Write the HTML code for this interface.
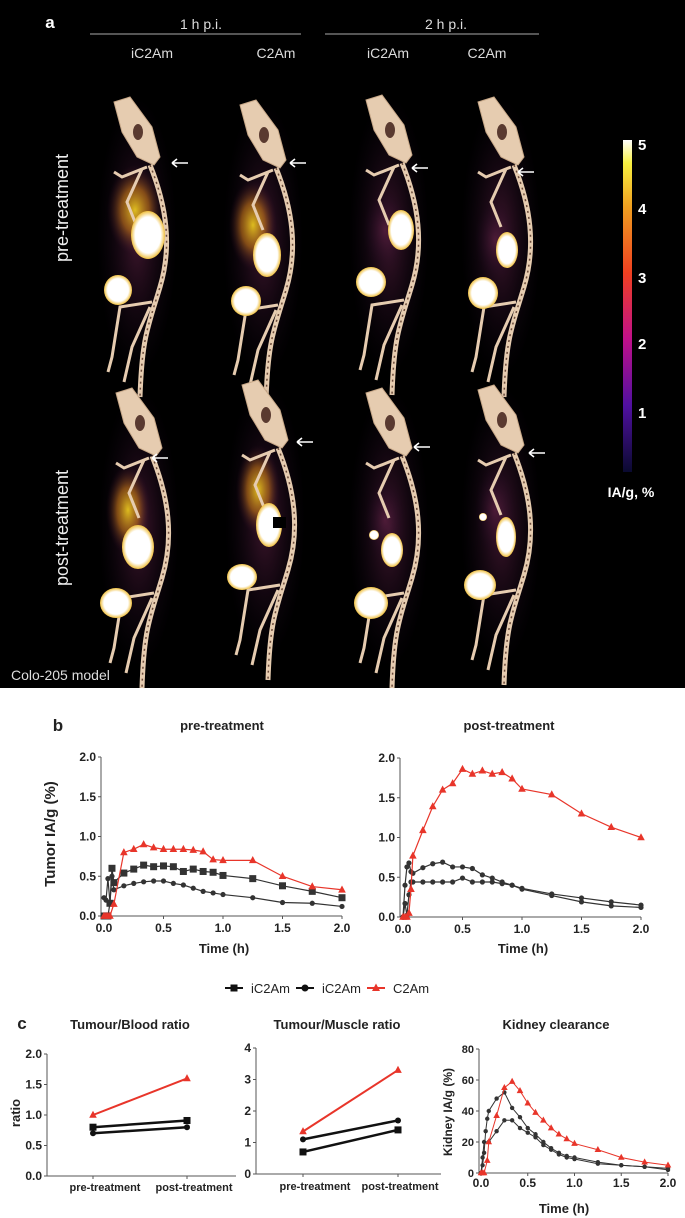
<!DOCTYPE html>
<html><head><meta charset="utf-8">
<style>
html,body{margin:0;padding:0;background:#fff;}
svg{display:block;font-family:"Liberation Sans",Arial,sans-serif;}
</style></head>
<body>
<svg id="fig" width="685" height="1218" viewBox="0 0 685 1218" xmlns="http://www.w3.org/2000/svg">
<defs>
<radialGradient id="glowY" cx="50%" cy="50%" r="50%"><stop offset="0" stop-color="#f2d020" stop-opacity="0.9"/><stop offset="0.5" stop-color="#c87818" stop-opacity="0.6"/><stop offset="1" stop-color="#3a1030" stop-opacity="0"/></radialGradient>
<radialGradient id="glowD" cx="50%" cy="50%" r="50%"><stop offset="0" stop-color="#5a2040" stop-opacity="0.7"/><stop offset="1" stop-color="#1a0820" stop-opacity="0"/></radialGradient>
<radialGradient id="blob" cx="50%" cy="50%" r="50%"><stop offset="0.75" stop-color="#ffffff"/><stop offset="1" stop-color="#f0c040"/></radialGradient>
<linearGradient id="cbar" x1="0" y1="1" x2="0" y2="0"><stop offset="0" stop-color="#0a0a30"/><stop offset="0.2" stop-color="#5010a0"/><stop offset="0.4" stop-color="#c0108a"/><stop offset="0.6" stop-color="#f04020"/><stop offset="0.8" stop-color="#f0a020"/><stop offset="0.93" stop-color="#f8f040"/><stop offset="1" stop-color="#ffffff"/></linearGradient>
</defs>
<rect x="0" y="0" width="685" height="688" fill="#000"/>
<g id="panelA"></g>
<g id="panelB"></g>
<g id="panelC"></g>
</svg>
<script>
// ---------- Panel b data ----------
const timesPreC2 = [0,0.017,0.033,0.05,0.083,0.167,0.25,0.333,0.417,0.5,0.583,0.667,0.75,0.833,0.917,1.0,1.25,1.5,1.75,2.0];
const preC2Am = [0,0,0,0,0.15,0.80,0.84,0.90,0.86,0.84,0.84,0.84,0.83,0.81,0.71,0.70,0.70,0.50,0.37,0.33];
const timesPreSq = [0,0.017,0.033,0.05,0.067,0.083,0.167,0.25,0.333,0.417,0.5,0.583,0.667,0.75,0.833,0.917,1.0,1.25,1.5,1.75,2.0];
const preIC2AmSq = [0,0,0,0.16,0.60,0.42,0.54,0.59,0.64,0.62,0.63,0.62,0.56,0.59,0.56,0.55,0.51,0.47,0.38,0.31,0.23];
const preIC2AmCi = [0.23,0.20,0.47,0.17,0.50,0.33,0.38,0.41,0.43,0.44,0.44,0.41,0.39,0.35,0.31,0.29,0.27,0.23,0.17,0.16,0.12];
const timesPost = [0,0.017,0.033,0.05,0.067,0.083,0.167,0.25,0.333,0.417,0.5,0.583,0.667,0.75,0.833,0.917,1.0,1.25,1.5,1.75,2.0];
const postC2Am = [0,0,0,0.05,0.35,0.77,1.09,1.39,1.60,1.68,1.86,1.80,1.84,1.80,1.82,1.74,1.61,1.54,1.30,1.13,1.00];
const postIC2AmA = [0,0.40,0.63,0.68,0.57,0.55,0.62,0.67,0.69,0.63,0.63,0.61,0.53,0.49,0.44,0.40,0.35,0.27,0.19,0.14,0.12];
const postIC2AmB = [0,0.17,0.02,0.28,0.44,0.44,0.44,0.44,0.44,0.44,0.49,0.44,0.44,0.44,0.42,0.40,0.36,0.29,0.24,0.19,0.15];
const timeTicks = [0,0.5,1.0,1.5,2.0];
const timeTickLabels = ["0.0","0.5","1.0","1.5","2.0"];
const tumorTicks = [0,0.5,1.0,1.5,2.0];
const tumorTickLabels = ["0.0","0.5","1.0","1.5","2.0"];
// ---------- Panel c data ----------
const ratioCats = ["pre-treatment","post-treatment"];
const bloodC2Am = [1.0,1.6];
const bloodIC2AmSq = [0.8,0.91];
const bloodIC2AmCi = [0.7,0.8];
const bloodTicks = [0,0.5,1.0,1.5,2.0];
const bloodTickLabels = ["0.0","0.5","1.0","1.5","2.0"];
const muscleC2Am = [1.35,3.3];
const muscleIC2AmCi = [1.1,1.7];
const muscleIC2AmSq = [0.7,1.4];
const muscleTicks = [0,1,2,3,4];
const muscleTickLabels = ["0","1","2","3","4"];
const kidTimesRed = [0,0.017,0.033,0.067,0.083,0.167,0.25,0.333,0.417,0.5,0.583,0.667,0.75,0.833,0.917,1.0,1.25,1.5,1.75,2.0];
const kidneyC2Am = [0,0,0,8,20,37,55,59,53,45,39,34,29,25,22,19,15,10,7,5];
const kidTimesA = [0,0.017,0.033,0.05,0.067,0.083,0.167,0.25,0.333,0.417,0.5,0.583,0.667,0.75,0.833,0.917,1.0,1.25,1.5,1.75,2.0];
const kidneyIC2AmA = [0,5,13,27,35,40,48,52,42,36,29,25,20,16,13,11,10,7,5,4,3];
const kidTimesB = [0,0.017,0.033,0.083,0.167,0.25,0.333,0.417,0.5,0.583,0.667,0.75,0.833,0.917,1.0,1.25,1.5,1.75,2.0];
const kidneyIC2AmB = [0,10,20,20,27,34,34,29,26,23,18,15,12,10,9,6,5,4,2];
const kidTicks = [0,20,40,60,80];
const kidTickLabels = ["0","20","40","60","80"];

const NS = "http://www.w3.org/2000/svg";
function mk(parent, tag, attrs, text){
  const e = document.createElementNS(NS, tag);
  for (const k in attrs) e.setAttribute(k, attrs[k]);
  if (text !== undefined) e.textContent = text;
  parent.appendChild(e);
  return e;
}
function lin(d0,d1,r0,r1){ return v => r0 + (v-d0)/(d1-d0)*(r1-r0); }

// ---------- Panel a ----------
const A = document.getElementById('panelA');
function txt(parent,x,y,s,size,fill,anchor,weight,name){
  const t = mk(parent,'text',{x:x,y:y,'font-size':size,fill:fill,'text-anchor':anchor||'middle','font-weight':weight||'normal'},s);
  
  
  return t;
}
txt(A,50,28,'a',17,'#fff','middle','bold','panel-a-label');
txt(A,201,29,'1 h p.i.',14,'#ddd','middle','normal','header-1h');
txt(A,446,29,'2 h p.i.',14,'#ddd','middle','normal','header-2h');
mk(A,'line',{x1:90,y1:34,x2:301,y2:34,stroke:'#aaa','stroke-width':1});
mk(A,'line',{x1:325,y1:34,x2:539,y2:34,stroke:'#aaa','stroke-width':1});
const colX = [152,276,388,487], colL = ['iC2Am','C2Am','iC2Am','C2Am'];
colX.forEach((x,i)=>txt(A,x,58,colL[i],14,'#ddd','middle','normal','column-label'));
let t1 = txt(A,0,0,'pre-treatment',18,'#eee','middle','normal','row-label-pre');
t1.setAttribute('transform','translate(68,208) rotate(-90)');
let t2 = txt(A,0,0,'post-treatment',18,'#eee','middle','normal','row-label-post');
t2.setAttribute('transform','translate(68,528) rotate(-90)');
txt(A,11,680,'Colo-205 model',14,'#ddd','start','normal','model-label');
// colorbar
const cb = mk(A,'rect',{x:623,y:140,width:9,height:332,fill:'url(#cbar)'});


[['5',150],['4',214],['3',283],['2',349],['1',418]].forEach(p=>txt(A,638,p[1],p[0],15,'#fff','start','bold','colorbar-tick'));
txt(A,631,497,'IA/g, %',14,'#fff','middle','bold','colorbar-title');

const mice = [
 {hx:122,ht:97, glow:[135,210,28,45], blobs:[[148,235,17,24],[118,290,14,15]], yellow:true, arrow:[180,163]},
 {hx:248,ht:100,glow:[253,225,24,45], blobs:[[267,255,14,22],[246,301,15,15]], yellow:true, arrow:[298,163]},
 {hx:374,ht:95, glow:[385,230,22,40], blobs:[[401,230,13,20],[371,282,15,15]], yellow:false, arrow:[420,168]},
 {hx:486,ht:97, glow:[495,240,20,40], blobs:[[507,250,11,18],[483,293,15,16]], yellow:false, arrow:[526,172]},
 {hx:124,ht:388,glow:[128,510,22,45], blobs:[[138,547,16,22],[116,603,16,15]], yellow:true, arrow:[160,458]},
 {hx:250,ht:380,glow:[258,490,22,45], blobs:[[269,525,13,22],[242,577,15,13]], yellow:true, arrow:[305,442], notch:true},
 {hx:374,ht:388,glow:[385,520,20,40], blobs:[[392,550,11,17],[374,535,5,5],[371,603,17,16]], yellow:false, arrow:[422,447]},
 {hx:486,ht:385,glow:[495,510,20,45], blobs:[[506,537,10,20],[483,517,4,4],[480,585,16,15]], yellow:false, arrow:[537,453]}
];
mice.forEach((m,i)=>{
  const g = mk(A,'g',{});
  
  
  const x=m.hx, t=m.ht;
  mk(g,'ellipse',{cx:x+15,cy:t+140,rx:40,ry:140,fill:'url(#glowD)'});
  mk(g,'ellipse',{cx:m.glow[0],cy:m.glow[1],rx:m.glow[2],ry:m.glow[3],fill:m.yellow?'url(#glowY)':'url(#glowD)'});
  // skull
  mk(g,'path',{d:`M${x-8},${t+5} L${x+8},${t} L${x+30},${t+30} L${x+38},${t+60} L${x+32},${t+68} L${x+15},${t+60} L${x},${t+35} Z`,fill:'#e6ccb0',stroke:'#c8a888','stroke-width':1});
  mk(g,'ellipse',{cx:x+16,cy:t+35,rx:5,ry:8,fill:'#5a3a30'});
  // spine
  mk(g,'path',{d:`M${x+28},${t+68} C${x+45},${t+110} ${x+50},${t+150} ${x+38},${t+190} S${x+20},${t+240} ${x+18},${t+300}`,fill:'none',stroke:'#e6ccb0','stroke-width':5});
  mk(g,'path',{d:`M${x+28},${t+68} C${x+45},${t+110} ${x+50},${t+150} ${x+38},${t+190} S${x+20},${t+240} ${x+18},${t+300}`,fill:'none',stroke:'#6a4a3a','stroke-width':1.5,'stroke-dasharray':'2 4'});
  // forelimbs
  mk(g,'path',{d:`M${x+25},${t+70} L${x},${t+80} L${x-8},${t+75} M${x+20},${t+72} L${x+5},${t+105} L${x+15},${t+130}`,fill:'none',stroke:'#e6ccb0','stroke-width':3});
  // hind limbs
  mk(g,'path',{d:`M${x+30},${t+205} L${x-2},${t+210} L${x-10},${t+260} L${x-14},${t+275} M${x+28},${t+210} L${x+10},${t+250} L${x+2},${t+285}`,fill:'none',stroke:'#e6ccb0','stroke-width':3});
  m.blobs.forEach(b=>mk(g,'ellipse',{cx:b[0],cy:b[1],rx:b[2],ry:b[3],fill:'url(#blob)'}));
  if (m.notch) mk(g,'rect',{x:273,y:517,width:13,height:11,fill:'#000'});
  const a = mk(g,'path',{d:`M${m.arrow[0]-8},${m.arrow[1]} L${m.arrow[0]+8},${m.arrow[1]} M${m.arrow[0]-8},${m.arrow[1]} L${m.arrow[0]-3},${m.arrow[1]-4} M${m.arrow[0]-8},${m.arrow[1]} L${m.arrow[0]-3},${m.arrow[1]+4}`,stroke:'#fff','stroke-width':1.6,fill:'none'});
  
  
});

// ---------- generic chart ----------
function marker(g,type,x,y,color,size){
  let e;
  if (type==='sq') e = mk(g,'rect',{x:x-size,y:y-size,width:2*size,height:2*size,fill:color});
  else if (type==='ci') e = mk(g,'circle',{cx:x,cy:y,r:size,fill:color});
  else e = mk(g,'path',{d:`M${x},${y-size-1} L${x+size+0.5},${y+size-0.5} L${x-size-0.5},${y+size-0.5} Z`,fill:color});
  
  
}
function series(g,xs,ys,sx,sy,color,type,size,width,name){
  const s = mk(g,'g',{});
  
  
  const pts = xs.map((x,i)=>sx(x)+','+sy(ys[i])).join(' ');
  mk(s,'polyline',{points:pts,fill:'none',stroke:color,'stroke-width':width});
  xs.forEach((x,i)=>marker(s,type,sx(x),sy(ys[i]),color,size));
}
function yAxis(g,x,y0,y1,ticks,labels,sy,fs){
  const ax = mk(g,'g',{});
  
  
  mk(ax,'line',{x1:x,y1:y0,x2:x,y2:y1,stroke:'#555','stroke-width':1});
  ticks.forEach((v,i)=>{
    mk(ax,'line',{x1:x-3,y1:sy(v),x2:x,y2:sy(v),stroke:'#555','stroke-width':1});
    const t = mk(ax,'text',{x:x-5,y:sy(v)+4,'font-size':fs,'font-weight':'bold','text-anchor':'end',fill:'#222'},labels[i]);
    
    
  });
}
function xAxis(g,y,x0,x1,ticks,labels,sx,fs,ly){
  const ax = mk(g,'g',{});
  
  
  mk(ax,'line',{x1:x0,y1:y,x2:x1,y2:y,stroke:'#555','stroke-width':1});
  ticks.forEach((v,i)=>{
    mk(ax,'line',{x1:sx(v),y1:y,x2:sx(v),y2:y+3,stroke:'#555','stroke-width':1});
    const t = mk(ax,'text',{x:sx(v),y:ly,'font-size':fs,'font-weight':'bold','text-anchor':'middle',fill:'#222'},labels[i]);
    
    
  });
}
function label(g,x,y,s,fs,name,rot,weight){
  const t = mk(g,'text',{x:rot?0:x,y:rot?0:y,'font-size':fs,'font-weight':weight||'bold','text-anchor':'middle',fill:'#222'},s);
  if (rot) t.setAttribute('transform',`translate(${x},${y}) rotate(-90)`);
  
  
}

// ---------- Panel b ----------
const B = document.getElementById('panelB');
label(B,58,731,'b',17,'panel-b-label');
// left
{
  const sx = lin(0,2,104,342), sy = lin(0,2,916,757);
  label(B,222,730,'pre-treatment',13,'chart-title-pre');
  xAxis(B,916,101,342,timeTicks,timeTickLabels,sx,12,932);
  yAxis(B,101,757,916,tumorTicks,tumorTickLabels,sy,12);
  series(B,timesPreSq,preIC2AmSq,sx,sy,'#333','sq',3.5,1.2,'series-ic2am-square');
  series(B,timesPreSq,preIC2AmCi,sx,sy,'#333','ci',2.6,1.2,'series-ic2am-circle');
  series(B,timesPreC2,preC2Am,sx,sy,'#e8352a','tri',3.3,1.2,'series-c2am');
  label(B,224,953,'Time (h)',13,'x-axis-title-pre');
  label(B,55,834,'Tumor  IA/g (%)',15,'y-axis-title-tumor',true);
}
// right
{
  const sx = lin(0,2,403,641), sy = lin(0,2,917,758);
  label(B,509,730,'post-treatment',13,'chart-title-post');
  xAxis(B,917,400,641,timeTicks,timeTickLabels,sx,12,933);
  yAxis(B,400,758,917,tumorTicks,tumorTickLabels,sy,12);
  series(B,timesPost,postIC2AmA,sx,sy,'#333','ci',2.6,1.2,'series-ic2am-circle-a');
  series(B,timesPost,postIC2AmB,sx,sy,'#333','ci',2.6,1.2,'series-ic2am-circle-b');
  series(B,timesPost,postC2Am,sx,sy,'#e8352a','tri',3.3,1.2,'series-c2am');
  label(B,523,953,'Time (h)',13,'x-axis-title-post');
}
// legend
{
  const lg = mk(B,'g',{});
  
  
  const items = [['sq','#111','iC2Am',225],['ci','#111','iC2Am',296],['tri','#e8352a','C2Am',367]];
  items.forEach(it=>{
    const e = mk(lg,'g',{});
    
    
    mk(e,'line',{x1:it[3],y1:988,x2:it[3]+18,y2:988,stroke:it[1],'stroke-width':2});
    marker(e,it[0],it[3]+9,988,it[1],3.5);
    mk(e,'text',{x:it[3]+26,y:993,'font-size':13,fill:'#222'},it[2]);
  });
}

// ---------- Panel c ----------
const C = document.getElementById('panelC');
label(C,22,1029,'c',17,'panel-c-label');
// blood
{
  const sy = lin(0,2,1176,1054), sx = i=>[93,187][i];
  label(C,130,1029,'Tumour/Blood ratio',13,'chart-title-blood');
  yAxis(C,47,1054,1176,bloodTicks,bloodTickLabels,sy,12);
  mk(C,'line',{x1:47,y1:1176,x2:236,y2:1176,stroke:'#555','stroke-width':1});
  ratioCats.forEach((c,i)=>{ mk(C,'line',{x1:sx(i),y1:1176,x2:sx(i),y2:1179,stroke:'#555'}); });
  label(C,105,1191,ratioCats[0],11,'x-category-label');
  label(C,194,1191,ratioCats[1],11,'x-category-label');
  label(C,20,1113,'ratio',13,'y-axis-title-ratio',true);
  series(C,[0,1],bloodIC2AmSq,sx,sy,'#111','sq',3.5,2.5,'series-ic2am-square');
  series(C,[0,1],bloodIC2AmCi,sx,sy,'#111','ci',3,2.5,'series-ic2am-circle');
  series(C,[0,1],bloodC2Am,sx,sy,'#e8352a','tri',3.3,2,'series-c2am');
}
// muscle
{
  const sy = lin(0,4,1174,1048), sx = i=>[303,398][i];
  label(C,337,1029,'Tumour/Muscle ratio',13,'chart-title-muscle');
  yAxis(C,256,1048,1174,muscleTicks,muscleTickLabels,sy,12);
  mk(C,'line',{x1:256,y1:1174,x2:441,y2:1174,stroke:'#555','stroke-width':1});
  ratioCats.forEach((c,i)=>{ mk(C,'line',{x1:sx(i),y1:1174,x2:sx(i),y2:1177,stroke:'#555'}); });
  label(C,315,1190,ratioCats[0],11,'x-category-label');
  label(C,400,1190,ratioCats[1],11,'x-category-label');
  series(C,[0,1],muscleIC2AmSq,sx,sy,'#111','sq',3.5,2.5,'series-ic2am-square');
  series(C,[0,1],muscleIC2AmCi,sx,sy,'#111','ci',3,2.5,'series-ic2am-circle');
  series(C,[0,1],muscleC2Am,sx,sy,'#e8352a','tri',3.3,2,'series-c2am');
}
// kidney
{
  const sx = lin(0,2,481,668), sy = lin(0,80,1173,1049);
  label(C,556,1029,'Kidney clearance',13,'chart-title-kidney');
  yAxis(C,479,1049,1173,kidTicks,kidTickLabels,sy,11);
  xAxis(C,1173,479,668,timeTicks,timeTickLabels,sx,12,1187);
  label(C,452,1112,'Kidney  IA/g (%)',12,'y-axis-title-kidney',true);
  label(C,564,1213,'Time (h)',13,'x-axis-title-kidney');
  series(C,kidTimesB,kidneyIC2AmB,sx,sy,'#333','ci',2.2,1,'series-ic2am-circle-b');
  series(C,kidTimesA,kidneyIC2AmA,sx,sy,'#333','ci',2.2,1,'series-ic2am-circle-a');
  series(C,kidTimesRed,kidneyC2Am,sx,sy,'#e8352a','tri',2.8,1,'series-c2am');
}
</script>
</body></html>
